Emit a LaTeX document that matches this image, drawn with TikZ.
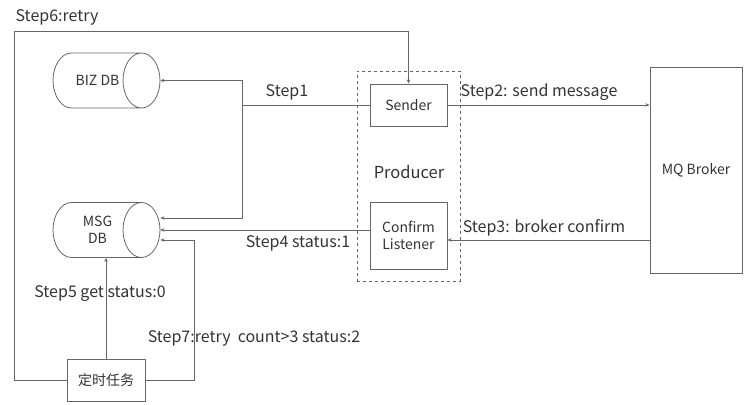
\documentclass[tikz,border=0pt]{standalone}
\usepackage{fontspec}
\setmainfont{Noto Sans CJK SC}
\usepackage{xcolor}
\usepackage{tikz}
\usetikzlibrary{shapes.geometric,arrows.meta}
\definecolor{linegray}{HTML}{666666}
\definecolor{textgray}{HTML}{333333}

\tikzset{
	box/.style={draw=linegray, line width=1pt, inner sep=0pt, align=center, text=textgray, font=\fontsize{14}{17}\selectfont},
	db/.style={cylinder, draw=linegray, line width=0.8pt, aspect=1.85, minimum width=55pt, minimum height=107pt, inner xsep=0pt, inner ysep=10pt, anchor=shape center},
	dbtext/.style={align=center, text=textgray, font=\fontsize{14}{17}\selectfont, inner sep=0pt},
	arr/.style={draw=linegray, line width=1pt, -{Stealth[length=4pt,width=3.5pt]}},
	ln/.style={draw=linegray, line width=1pt},
	lbl/.style={text=textgray, font=\fontsize{16}{18}\selectfont, inner sep=0pt},
}

\begin{document}
\begin{tikzpicture}[x=1pt, y=-1pt]
		\useasboundingbox (0,0) rectangle (749,404);

		\node[db] at (106.5, 80.5) (biz) {};
		\node[dbtext] at ([xshift=-9pt]biz.shape center) (biztext) {BIZ DB};
		\node[db] at (106.5, 230) (msg) {};
		\node[dbtext] at ([xshift=-9pt]msg.shape center) (msgtext) {MSG\\DB};

		\node[draw=linegray, dashed, line width=0.8pt, minimum width=103pt, minimum height=210pt] at (408.5, 176) (producer) {};
		\node[text=textgray, font=\fontsize{16.5}{18}\selectfont] at (409, 172) (plabel) {Producer};
		\node[box, minimum width=77pt, minimum height=42pt] at (408.5, 105) (sender) {Sender};
		\node[box, minimum width=77pt, minimum height=67pt] at (408.5, 235.5) (listener) {Confirm\\Listener};
		\node[box, minimum width=92pt, minimum height=206pt] at (696, 170) (broker) {MQ Broker};
		\node[box, minimum width=78pt, minimum height=42pt] at (106, 380) (timer) {定时任务};

		% step1
		\coordinate (split) at (242, 105);
		\draw[ln] (sender.west) -- (split);
		\draw[arr] (split) |- (biz.east);
		\draw[arr] (split) |- ([yshift=12pt]msg.east);
		\node[lbl] at (287, 92) (s1) {Step1};

		% step2, step3, step4
		\draw[arr] (sender.east) -- (broker.west |- sender.east);
		\node[lbl] at (539, 92) (s2) {Step2: send message};
		\coordinate (c3) at ([yshift=-4.5pt]listener.east);
		\draw[arr] (broker.west |- c3) -- (c3);
		\node[lbl] at (544, 228) (s3) {Step3: broker confirm};
		\draw[arr] (listener.west |- msg.east) -- (msg.east);
		\node[lbl] at (298, 243) (s4) {Step4 status:1};

		% step5
		\draw[arr] (timer.north) -- (timer.north |- msg.south);
		\node[lbl] at (100, 294) (s5) {Step5 get status:0};

		% step6
		\coordinate (loop) at (14, 32);
		\draw[arr] (timer.west) -| (loop) -| (sender.north);
		\node[lbl] at (57, 17) (s6) {Step6:retry};

		% step7
		\coordinate (back) at (194, 240);
		\draw[arr] (timer.east) -| (back) -- (back -| msg.east);
		\node[lbl] at (254, 338) (s7) {Step7:retry\ \ count>3 status:2};
	\end{tikzpicture}
\end{document}
